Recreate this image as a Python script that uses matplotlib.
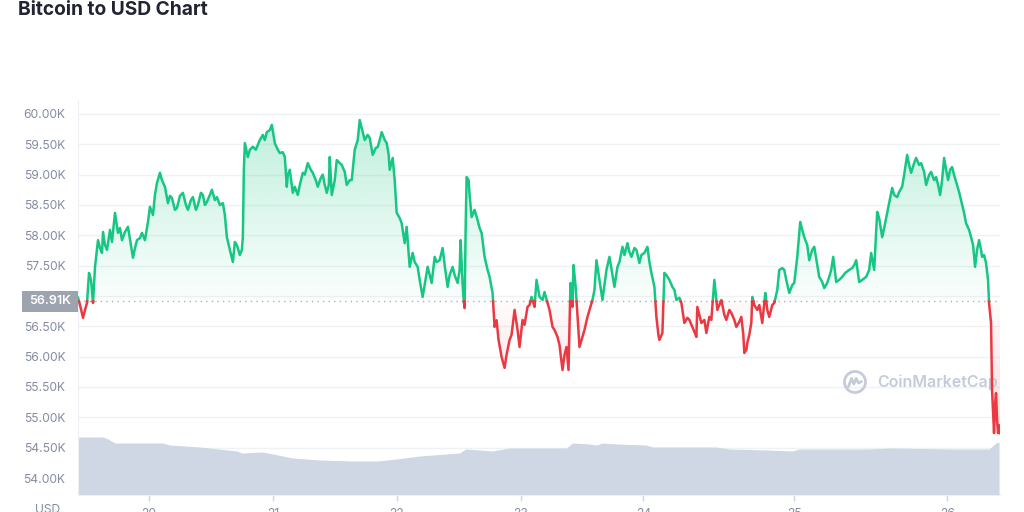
import numpy as np
import matplotlib
matplotlib.use('Agg')
import matplotlib.pyplot as plt
from matplotlib.colors import to_rgb
from matplotlib.path import Path
from matplotlib.patches import Rectangle, Circle
from matplotlib.lines import Line2D
from matplotlib.transforms import blended_transform_factory

plt.rcParams['font.family'] = ['Inter', 'DejaVu Sans']

# price samples (sample index along the chart, USD)
sample = [
    0, 2, 5, 7, 9, 11, 13, 15, 17, 20,
    22, 24, 25, 27, 29, 32, 34, 37, 40, 42,
    44, 47, 50, 53, 55, 57, 59, 62, 64, 67,
    70, 72, 75, 77, 79, 82, 84, 87, 90, 92,
    94, 97, 99, 102, 105, 108, 110, 113, 115, 118,
    120, 123, 125, 127, 129, 132, 134, 137, 139, 142,
    145, 147, 149, 152, 154, 155, 157, 159, 162, 164,
    165, 166, 167, 170, 172, 175, 178, 182, 185, 187,
    189, 192, 194, 197, 200, 202, 205, 207, 209, 210,
    212, 215, 217, 220, 222, 225, 227, 230, 233, 235,
    238, 240, 243, 245, 247, 249, 251, 252, 254, 257,
    259, 262, 264, 267, 269, 272, 274, 277, 280, 282,
    284, 287, 290, 292, 295, 298, 300, 302, 304, 307,
    309, 311, 312, 315, 317, 319, 322, 324, 327, 329,
    332, 335, 337, 340, 342, 345, 347, 350, 352, 354,
    357, 359, 362, 365, 367, 370, 372, 375, 377, 380,
    382, 383, 385, 386, 387, 388, 389, 391, 392, 394,
    397, 400, 402, 404, 407, 410, 412, 415, 417, 419,
    421, 424, 427, 429, 432, 434, 437, 440, 442, 445,
    447, 450, 452, 454, 457, 459, 462, 465, 467, 470,
    472, 475, 477, 480, 482, 485, 487, 489, 491, 493,
    495, 496, 498, 499, 502, 505, 507, 510, 512, 515,
    517, 519, 522, 525, 527, 529, 532, 535, 537, 540,
    542, 545, 547, 550, 552, 554, 557, 559, 562, 564,
    567, 570, 572, 574, 577, 579, 581, 582, 585, 587,
    589, 592, 595, 597, 599, 602, 604, 607, 610, 612,
    615, 617, 619, 620, 622, 624, 627, 629, 632, 634,
    637, 640, 642, 644, 647, 649, 652, 654, 657, 659,
    662, 664, 666, 667, 669, 670, 672, 674, 675, 677,
    680, 682, 685, 688, 690, 692, 695, 697, 700, 702,
    705, 707, 709, 712, 715, 717, 720, 723, 725, 727,
    730, 732, 735, 737, 740, 742, 745, 747, 750, 752,
    754, 756, 759, 762, 765, 768, 772, 775, 777, 779,
    781, 782, 785, 789, 792, 794, 797, 800, 802, 805,
    807, 810, 812, 815, 817, 820, 822, 825, 827, 830,
    832, 834, 837, 839, 842, 844, 847, 849, 852, 854,
    857, 859, 861, 863, 865, 867, 869, 871, 873, 875,
    877, 880, 882, 884, 887, 889, 892, 894, 896, 898,
    900, 902, 904, 905, 907, 909, 911, 912, 914, 915,
    917, 918, 919, 920, 921, 922, 923,
]
price = [
    56970, 56850, 56640, 56770, 56885, 57380, 57265, 56885, 57480, 57920,
    57790, 57710, 58055, 57840, 57760, 58090, 57890, 58370, 58040, 58120,
    57920, 58055, 58140, 57840, 57630, 57790, 57920, 57955, 58040, 57920,
    58220, 58470, 58335, 58665, 58860, 59030, 58910, 58800, 58530, 58650,
    58615, 58420, 58450, 58650, 58700, 58500, 58420, 58580, 58630, 58420,
    58500, 58700, 58665, 58500, 58550, 58665, 58750, 58580, 58630, 58500,
    58530, 58335, 57970, 57760, 57630, 57560, 57890, 57840, 57675, 57760,
    57970, 59080, 59520, 59290, 59410, 59460, 59410, 59570, 59655, 59570,
    59700, 59735, 59820, 59520, 59410, 59355, 59370, 59290, 58800, 58995,
    59080, 58700, 58800, 58665, 58830, 59030, 59000, 59190, 59080, 59030,
    58910, 58800, 58945, 59000, 58830, 58700, 58830, 59290, 58665, 58910,
    59240, 59190, 59160, 59045, 58830, 58910, 58910, 59410, 59570, 59900,
    59770, 59570, 59655, 59605, 59325, 59440, 59455, 59570, 59700, 59570,
    59520, 59325, 59080, 59275, 58910, 58370, 58285, 58200, 57870, 58140,
    57480, 57710, 57560, 57480, 57265, 56985, 57180, 57480, 57345, 57215,
    57645, 57560, 57590, 57790, 57510, 57150, 57345, 57480, 57345, 57215,
    57430, 57920, 57180, 56935, 56800, 58090, 58960, 58910, 58665, 58300,
    58420, 58250, 58120, 58040, 57645, 57430, 57315, 57050, 56490, 56600,
    56275, 55995, 55815, 56030, 56275, 56360, 56770, 56440, 56160, 56605,
    56525, 56820, 56850, 56985, 56820, 57265, 56985, 56935, 57065, 56885,
    56770, 56490, 56440, 56325, 56190, 55780, 56030, 56160, 55780, 57215,
    56820, 57510, 57180, 56935, 56160, 56325, 56440, 56655, 56770, 56935,
    57100, 57590, 57265, 56935, 57180, 57430, 57645, 57345, 57150, 57480,
    57560, 57810, 57675, 57870, 57725, 57645, 57790, 57760, 57545, 57675,
    57710, 57810, 57560, 57380, 57150, 56655, 56360, 56275, 56390, 57380,
    57345, 57265, 57150, 57100, 56935, 56970, 56885, 56555, 56640, 56605,
    56490, 56410, 56325, 56820, 56690, 56555, 56605, 56390, 56655, 56605,
    57265, 56770, 56850, 56935, 56690, 56605, 56770, 56720, 56605, 56490,
    56575, 56655, 56360, 56060, 56110, 56225, 56360, 56555, 56985, 56850,
    56770, 56850, 56555, 57050, 56770, 56655, 56850, 56885, 57100, 57430,
    57460, 57430, 57265, 57050, 57180, 57215, 57645, 58220, 58090, 57970,
    57840, 57590, 57760, 57810, 57510, 57315, 57230, 57130, 57215, 57315,
    57430, 57645, 57230, 57265, 57315, 57380, 57430, 57460, 57510, 57590,
    57345, 57230, 57265, 57315, 57430, 57710, 57430, 58385, 58285, 57970,
    58120, 58370, 58530, 58780, 58665, 58630, 58715, 58800, 58995, 59325,
    59160, 59030, 59190, 59275, 59160, 59190, 59045, 58830, 58995, 59045,
    58910, 58960, 58830, 58665, 58910, 59275, 59080, 58910, 59080, 59125,
    58995, 58830, 58715, 58580, 58370, 58200, 58090, 57970, 57840, 57480,
    57760, 57920, 57760, 57645, 57675, 57545, 57265, 56885, 56555, 55450,
    54740, 55205, 55400, 54955, 54740, 54870, 54740,
]
assert len(sample) == len(price)

# volume band (relative height)
vol_sample = [0, 25, 30, 37, 65, 85, 92, 122, 159, 164,
              185, 195, 215, 242, 275, 299, 319, 342, 382, 388,
              415, 432, 489, 495, 512, 519, 525, 539, 569, 575,
              639, 652, 689, 715, 722, 789, 815, 875, 912, 919, 922]
volume = [58, 58, 56, 52, 52, 52, 50, 48, 44, 42,
          43, 41, 37, 35, 34, 34, 36, 39, 42, 46,
          44, 47, 47, 52, 51, 50, 52, 51, 50, 48,
          48, 46, 45, 44, 46, 46, 47, 46, 46, 52, 53]
volume_top = 395

open_price = 56910
tick_samples = [71, 195, 319, 443, 566, 717, 870]
tick_labels = ['20', '21', '22', '23', '24', '25', '26']
y_ticks = np.arange(54000, 60001, 500)

GREEN = '#16c784'
RED = '#ea3943'
GREY = '#858ca2'

x = np.array(sample, float)
y = np.array(price, float)

# add crossing points at the open price so colours switch exactly there
xs, ys = [x[0]], [y[0]]
for i in range(1, len(x)):
    a, b = y[i - 1] - open_price, y[i] - open_price
    if a * b < 0:
        t = a / (a - b)
        xs.append(x[i - 1] + t * (x[i] - x[i - 1]))
        ys.append(open_price)
    xs.append(x[i])
    ys.append(y[i])
xs, ys = np.array(xs), np.array(ys)


def gradient_fill(ax, where, color, y_low, y_high, a_low, a_high):
    coll = ax.fill_between(xs, ys, open_price, where=where,
                           facecolor='none', edgecolor='none')
    clip = Path.make_compound_path(*coll.get_paths())
    rgba = np.zeros((256, 1, 4))
    rgba[..., :3] = to_rgb(color)
    rgba[:, 0, 3] = np.linspace(a_high, a_low, 256)
    im = ax.imshow(rgba, extent=[xs.min(), xs.max(), y_low, y_high],
                   origin='upper', aspect='auto', zorder=1.5)
    im.set_clip_path(clip, transform=ax.transData)


fig = plt.figure(figsize=(10.24, 5.12), dpi=100)
ax = fig.add_axes([0.0762, 0.0332, 0.9004, 0.7715])
ax.set_axisbelow(True)

# volume band in the lower part of the chart
vol_tr = blended_transform_factory(ax.transData, ax.transAxes)
ax.fill_between(vol_sample, np.array(volume) / volume_top, 0,
                transform=vol_tr, color='#cfd6e4', lw=0, zorder=1)

gradient_fill(ax, ys >= open_price, GREEN, open_price, 60000, 0.02, 0.28)
gradient_fill(ax, ys <= open_price, RED, 54500, open_price, 0.2, 0.02)

ax.plot(xs, np.where(ys >= open_price, ys, np.nan), color=GREEN, lw=1.8,
        solid_joinstyle='round', zorder=3)
ax.plot(xs, np.where(ys <= open_price, ys, np.nan), color=RED, lw=1.8,
        solid_joinstyle='round', zorder=3)
ax.axhline(open_price, color='#a9b1c1', ls=(0, (1, 3)), lw=1, zorder=2)

ax.set_xlim(0, 923)
ax.set_ylim(53720, 60230)
ax.set_yticks(y_ticks)
# the 57.00K label sits under the open price tag
ax.set_yticklabels(['' if v == 57000 else f'{v / 1000:.2f}K' for v in y_ticks])
ax.set_xticks(tick_samples)
ax.set_xticklabels(tick_labels)
ax.grid(axis='y', color='#eff2f5', lw=1)
ax.tick_params(axis='y', length=0, pad=9, labelsize=8.7, labelcolor=GREY)
ax.tick_params(axis='x', length=4, width=1, color='#cfd6e4', pad=5,
               labelsize=8.7, labelcolor=GREY)
for s in ['top', 'right']:
    ax.spines[s].set_visible(False)
for s in ['left', 'bottom']:
    ax.spines[s].set_color('#eceff4')

# current open price tag on the y axis
tag_tr = blended_transform_factory(ax.transAxes, ax.transData)
ax.add_patch(Rectangle((-56 / 922, open_price - 170), 56 / 922, 340,
                       transform=tag_tr, facecolor='#9ea3b0', edgecolor='none',
                       clip_on=False, zorder=5))
ax.text(-28 / 922, open_price, f'{open_price / 1000:.2f}K', transform=tag_tr,
        ha='center', va='center', color='white', fontsize=9,
        fontweight='semibold', zorder=6, clip_on=False)

# watermark
wm = '#c5cbd8'
ax.text(0.867, 0.286, 'CoinMarketCap', transform=ax.transAxes, ha='left',
        va='center', fontsize=11.5, fontweight='semibold', color=wm, zorder=2)
cx, cy = 8.55, 5.12 - 3.82
fig.add_artist(Circle((cx, cy), 0.105, transform=fig.dpi_scale_trans,
                      fill=False, lw=2, edgecolor=wm))
fig.add_artist(Line2D([cx - 0.065, cx - 0.035, cx - 0.012, cx + 0.012, cx + 0.035, cx + 0.065],
                      [cy - 0.045, cy + 0.035, cy - 0.02, cy + 0.035, cy - 0.01, cy + 0.005],
                      transform=fig.dpi_scale_trans, lw=2, color=wm,
                      solid_joinstyle='round', solid_capstyle='round'))

fig.text(18 / 1024, 1 - 10 / 512, 'Bitcoin to USD Chart', fontsize=13.8,
         fontweight='bold', color='#222531', va='center', ha='left')
fig.text(48 / 1024, 1 - 504 / 512, 'USD', fontsize=8.7, color=GREY,
         ha='center', va='top')

fig.savefig('out.png', dpi=100, facecolor='white')
